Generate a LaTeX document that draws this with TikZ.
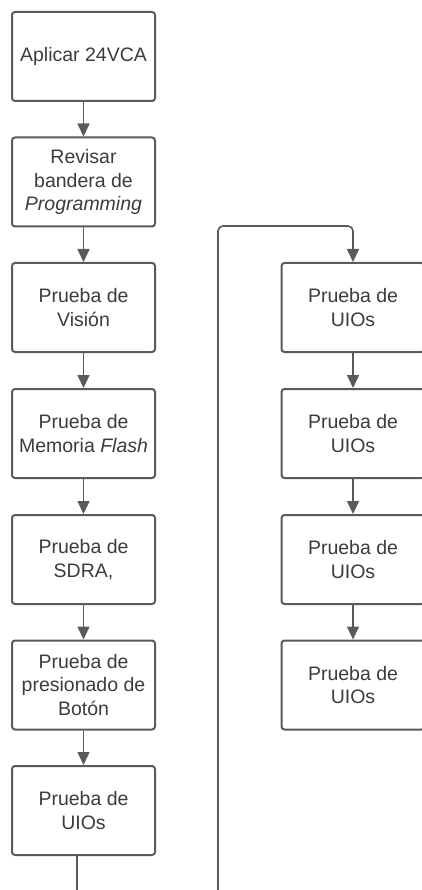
\documentclass[tikz,border=0pt]{standalone}
\usepackage{fontspec}
\setmainfont{Liberation Sans}
\usetikzlibrary{arrows.meta}
\definecolor{edge}{HTML}{5A5A5A}
\definecolor{ink}{HTML}{3C3C3C}
\tikzset{
  stepbox/.style={draw=edge, line width=2pt, rounded corners=3pt, fill=white,
    minimum width=143pt, minimum height=89pt, inner sep=2pt, align=center,
    text=ink, font=\fontsize{19.5}{23.5}\selectfont},
  flow/.style={draw=edge, line width=1.6pt,
    -{Triangle[length=13pt,width=12pt]}},
  plain/.style={draw=edge, line width=1.6pt, rounded corners=5pt}
}
\begin{document}
\begin{tikzpicture}[x=1pt,y=-1pt]
\useasboundingbox (0,0) rectangle (422,890);
\begin{scope}
\clip (0,0) rectangle (422,890);
% left column
\node[stepbox] (a1) at (83.5,56.5) {Aplicar 24VCA};
\node[stepbox] (a2) at (83.5,182) {Revisar\\bandera de\\\textit{Programming}};
\node[stepbox] (a3) at (83.5,307.5) {Prueba de\\Visión};
\node[stepbox] (a4) at (83.5,433.5) {Prueba de\\Memoria \textit{Flash}};
\node[stepbox] (a5) at (83.5,559.5) {Prueba de\\SDRA,};
\node[stepbox] (a6) at (83.5,685) {Prueba de\\presionado de\\Botón};
\node[stepbox] (a7) at (83.5,810.5) {Prueba de\\UIOs};
% right column
\node[stepbox] (b1) at (353,307.5) {Prueba de\\UIOs};
\node[stepbox] (b2) at (353,433.5) {Prueba de\\UIOs};
\node[stepbox] (b3) at (353,559.5) {Prueba de\\UIOs};
\node[stepbox] (b4) at (353,685) {Prueba de\\UIOs};
% arrows down the columns
\draw[flow] (a1) -- (a2);
\draw[flow] (a2) -- (a3);
\draw[flow] (a3) -- (a4);
\draw[flow] (a4) -- (a5);
\draw[flow] (a5) -- (a6);
\draw[flow] (a6) -- (a7);
\draw[flow] (b1) -- (b2);
\draw[flow] (b2) -- (b3);
\draw[flow] (b3) -- (b4);
% loop from the last left step over to the right column
\coordinate (out) at (77,856);
\coordinate (low) at (218,905);
\coordinate (high) at (218,226);
\coordinate (drop) at ([yshift=20pt]b1.north);
\draw[plain] (out) |- (low) -- (high) -| (drop);
\draw[flow] (drop) -- (b1.north);
\end{scope}
\end{tikzpicture}
\end{document}
